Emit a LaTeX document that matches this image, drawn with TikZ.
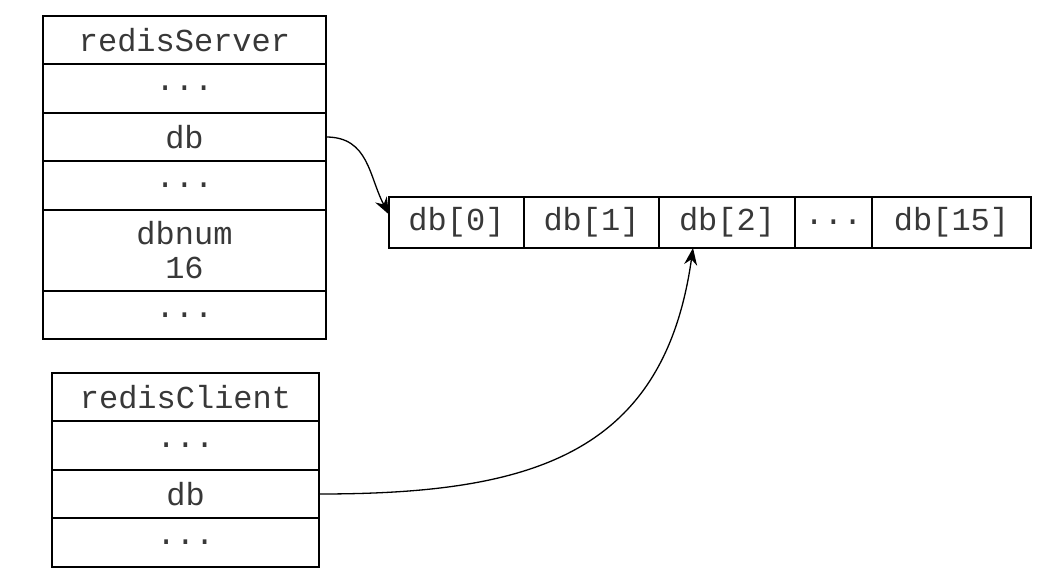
\documentclass[tikz,border=0pt]{standalone}
\usepackage{fontspec}
\setmonofont{Liberation Mono}
\usetikzlibrary{positioning,arrows.meta}

\begin{document}
\begin{tikzpicture}[x=1pt, y=-1pt,
    cell/.style={draw=borderColour, line width=1.8pt, inner sep=0pt, outer sep=0pt,
        minimum height=48.5pt, text=textColour, align=center,
        font=\fontsize{32}{34}\selectfont\ttfamily},
    srv/.style={cell, minimum width=283pt},
    cli/.style={cell, minimum width=267pt},
    slot/.style={cell, minimum height=51pt},
    link/.style={draw=borderColour, line width=1.3pt, -{Stealth[length=17pt, width=13pt]}}]
    \definecolor{borderColour}{HTML}{000000}
    \definecolor{textColour}{HTML}{383838}

    \useasboundingbox (0,0) rectangle (1064,580);

    % Draw redisServer
    \node[srv] (srvName) at (184.5,40) {redisServer};
    \node[srv, below=0pt of srvName] (srvDotsA) {...};
    \node[srv, below=0pt of srvDotsA] (srvDb) {db};
    \node[srv, below=0pt of srvDb] (srvDotsB) {...};
    \node[srv, below=0pt of srvDotsB, minimum height=81pt] (srvNum) {dbnum\\16};
    \node[srv, below=0pt of srvNum] (srvDotsC) {...};

    % Draw redisClient
    \node[cli] (cliName) at (185.5,397) {redisClient};
    \node[cli, below=0pt of cliName] (cliDotsA) {...};
    \node[cli, below=0pt of cliDotsA] (cliDb) {db};
    \node[cli, below=0pt of cliDb] (cliDotsB) {...};

    % Draw db array
    \node[slot, minimum width=135pt] (db0) at (456.5,222.5) {db[0]};
    \node[slot, minimum width=135pt, right=0pt of db0] (db1) {db[1]};
    \node[slot, minimum width=136pt, right=0pt of db1] (db2) {db[2]};
    \node[slot, minimum width=77pt, right=0pt of db2] (dbDots) {...};
    \node[slot, minimum width=159pt, right=0pt of dbDots] (db15) {db[15]};

    % Draw pointers
    \draw[link] (srvDb.east) to[out=0, in=118, looseness=1.1] ([yshift=8pt]db0.west);
    \draw[link] (cliDb.east) to[out=0, in=-98, looseness=1.2] ([xshift=-34pt]db2.south);

\end{tikzpicture}
\end{document}
